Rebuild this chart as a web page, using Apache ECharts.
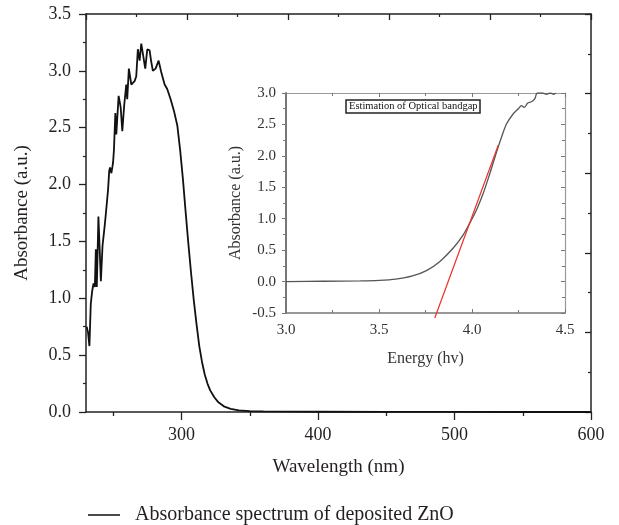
<!DOCTYPE html>
<html>
<head>
<meta charset="utf-8">
<script src="https://cdn.jsdelivr.net/npm/echarts@6/dist/echarts.min.js"></script>
<style>
html,body{margin:0;padding:0;background:#fff;}
#c{width:619px;height:525px;}
</style>
</head>
<body>
<div id="c"></div>
<script>
// Main spectrum
const wavelength = [230.5,231.5,232.5,233.5,234.5,235.5,236.5,237.2,237.9,238.5,239.1,239.8,240.9,242.1,243.8,244.6,246.2,247.0,247.6,248.6,249.8,250.5,251.5,252.2,253.9,255.4,256.6,258,259.5,260.2,261.4,263.2,265.6,266.8,268,269.3,270.5,271.7,273.4,274.9,276.6,277.8,279,281,283.2,285.1,287.6,289.5,292,294.4,296.9,299,301,303,305,307,309,311,313,315,317,319,321,324,327,331,336,342,350,360,380,400,450,500,550,600];
const absorbance = [0.75,0.70,0.58,0.95,1.06,1.13,1.10,1.43,1.10,1.40,1.72,1.50,1.15,1.46,1.65,1.75,1.96,2.12,2.15,2.10,2.19,2.31,2.63,2.44,2.78,2.68,2.47,2.70,2.88,2.75,3.02,2.88,2.91,2.95,3.19,3.09,3.24,3.15,3.02,3.19,3.18,3.08,3.00,3.02,3.09,2.99,2.88,2.84,2.75,2.65,2.52,2.30,2.05,1.76,1.48,1.22,0.98,0.77,0.58,0.44,0.33,0.25,0.19,0.13,0.085,0.05,0.028,0.015,0.008,0.005,0.003,0.002,0.001,0.001,0,0];
const xMajorTicks = [300,400,500,600];
const xMinorTicks = [250,350,450,550];

// Inset (optical bandgap)
const energy = [3.0,3.2,3.4,3.5,3.59,3.68,3.755,3.826,3.898,3.952,3.988,4.024,4.06,4.096,4.132,4.159,4.186,4.222,4.249,4.266,4.28,4.30,4.32,4.338,4.347,4.356,4.38,4.40,4.42,4.44,4.45];
const insetAbs = [0,0.005,0.012,0.02,0.04,0.09,0.175,0.317,0.53,0.74,0.93,1.14,1.40,1.72,2.06,2.30,2.51,2.67,2.75,2.80,2.77,2.84,2.86,2.91,2.99,3.0,3.0,2.98,3.0,2.98,3.0];
const fitX = [3.80, 4.141];
const fitY = [-0.58, 2.17];

const seriesName = 'Absorbance spectrum of deposited ZnO';
const insetTitle = 'Estimation of Optical bandgap';

const FONT = 'Liberation Serif';
const TXT = '#231f20';
const fmt1 = v => v.toFixed(1);

const chart = echarts.init(document.getElementById('c'), null, {renderer:'canvas'});
const frameAxis = (extra) => Object.assign({
  type:'value', min:0, max:10, interval:2,
  axisLine:{show:true, onZero:false, lineStyle:{color:'#222', width:1.5}},
  axisTick:{show:true, inside:true, length:6, lineStyle:{color:'#222', width:1.3}},
  minorTick:{show:true, splitNumber:2, length:3, lineStyle:{color:'#222', width:1.2}},
  axisLabel:{show:false}, splitLine:{show:false}
}, extra);
const insetFrame = (extra) => Object.assign({
  type:'value', gridIndex:1,
  axisLine:{show:true, onZero:false, lineStyle:{color:'#999', width:1.2}},
  axisTick:{show:true, inside:true, length:4, lineStyle:{color:'#777'}},
  minorTick:{show:true, splitNumber:2, length:3, lineStyle:{color:'#777'}},
  axisLabel:{show:false}, splitLine:{show:false}
}, extra);

chart.setOption({
  backgroundColor:'#fff',
  animation:false,
  title:{
    text: insetTitle, left:346, top:100,
    borderColor:'#222', borderWidth:1.5, padding:[1,3],
    backgroundColor:'#fff',
    textStyle:{fontFamily:FONT, fontSize:10.5, fontWeight:'normal', color:'#111'}
  },
  legend:{
    data:[seriesName], left:88, top:505, padding:0, icon:'rect',
    itemWidth:32, itemHeight:1.5,
    textStyle:{fontFamily:FONT, fontSize:20, color:TXT, padding:[0,0,0,10]}
  },
  grid:[
    {left:86, top:14, width:505, height:398},
    {left:286, top:93, width:279, height:220, show:true, backgroundColor:'#fff', borderWidth:0}
  ],
  xAxis:[
    {type:'value', gridIndex:0, min:230, max:600, position:'bottom',
     name:'Wavelength (nm)', nameLocation:'middle', nameGap:46,
     nameTextStyle:{fontFamily:FONT, fontSize:19, color:TXT},
     axisLine:{show:true, onZero:false, lineStyle:{color:'#222', width:1.5}},
     axisTick:{show:true, customValues:xMajorTicks, length:8, lineStyle:{color:'#222', width:1.3}},
     axisLabel:{customValues:xMajorTicks, fontFamily:FONT, fontSize:18, color:TXT, margin:14},
     splitLine:{show:false}},
    {type:'value', gridIndex:0, min:230, max:600, position:'bottom',
     axisLine:{show:false, onZero:false},
     axisTick:{show:true, customValues:xMinorTicks, length:4, lineStyle:{color:'#222', width:1.3}},
     axisLabel:{show:false}, splitLine:{show:false}},
    frameAxis({gridIndex:0, position:'top'}),
    {type:'value', gridIndex:1, min:3.0, max:4.5, interval:0.5, position:'bottom',
     name:'Energy (hv)', nameLocation:'middle', nameGap:38,
     nameTextStyle:{fontFamily:FONT, fontSize:16, color:'#333'},
     axisLine:{show:true, onZero:false, lineStyle:{color:'#777', width:1.5}},
     axisTick:{show:true, inside:true, length:4, lineStyle:{color:'#777'}},
     minorTick:{show:true, splitNumber:2, length:3, lineStyle:{color:'#777'}},
     axisLabel:{formatter:fmt1, fontFamily:FONT, fontSize:15, color:'#333', margin:10},
     splitLine:{show:false}},
    insetFrame({min:3.0, max:4.5, interval:0.5, position:'top'})
  ],
  yAxis:[
    {type:'value', gridIndex:0, min:0, max:3.5, interval:0.5, position:'left',
     name:'Absorbance (a.u.)', nameLocation:'middle', nameGap:54,
     nameTextStyle:{fontFamily:FONT, fontSize:19, color:TXT},
     axisLine:{show:true, onZero:false, lineStyle:{color:'#222', width:1.5}},
     axisTick:{show:true, length:7, lineStyle:{color:'#222', width:1.3}},
     minorTick:{show:true, splitNumber:2, length:3, lineStyle:{color:'#222', width:1.2}},
     axisLabel:{formatter:fmt1, fontFamily:FONT, fontSize:18, color:TXT, margin:15},
     splitLine:{show:false}},
    frameAxis({gridIndex:0, position:'right'}),
    {type:'value', gridIndex:1, min:-0.5, max:3.0, interval:0.5, position:'left',
     name:'Absorbance (a.u.)', nameLocation:'middle', nameGap:42,
     nameTextStyle:{fontFamily:FONT, fontSize:16, color:'#333'},
     axisLine:{show:true, onZero:false, lineStyle:{color:'#777', width:2}},
     axisTick:{show:true, length:4, lineStyle:{color:'#777'}},
     minorTick:{show:true, splitNumber:2, length:3, lineStyle:{color:'#777'}},
     axisLabel:{formatter:fmt1, fontFamily:FONT, fontSize:15, color:'#333', margin:10},
     splitLine:{show:false}},
    insetFrame({min:-0.5, max:3.0, interval:0.5, position:'right'})
  ],
  series:[
    {name:seriesName, type:'line', xAxisIndex:0, yAxisIndex:0,
     data: wavelength.map((w,i)=>[w, absorbance[i]]),
     symbol:'none', smooth:false, color:'#111',
     lineStyle:{color:'#111', width:1.8}},
    {name:'inset', type:'line', xAxisIndex:3, yAxisIndex:2,
     data: energy.map((e,i)=>[e, insetAbs[i]]),
     symbol:'none', smooth:0.3, color:'#555',
     lineStyle:{color:'#555', width:1.3}, z:5},
    {name:'fit', type:'line', xAxisIndex:3, yAxisIndex:2,
     data: fitX.map((e,i)=>[e, fitY[i]]),
     symbol:'none', clip:false, color:'#e8332a',
     lineStyle:{color:'#e8332a', width:1.2}, z:6}
  ]
});
</script>
</body>
</html>
